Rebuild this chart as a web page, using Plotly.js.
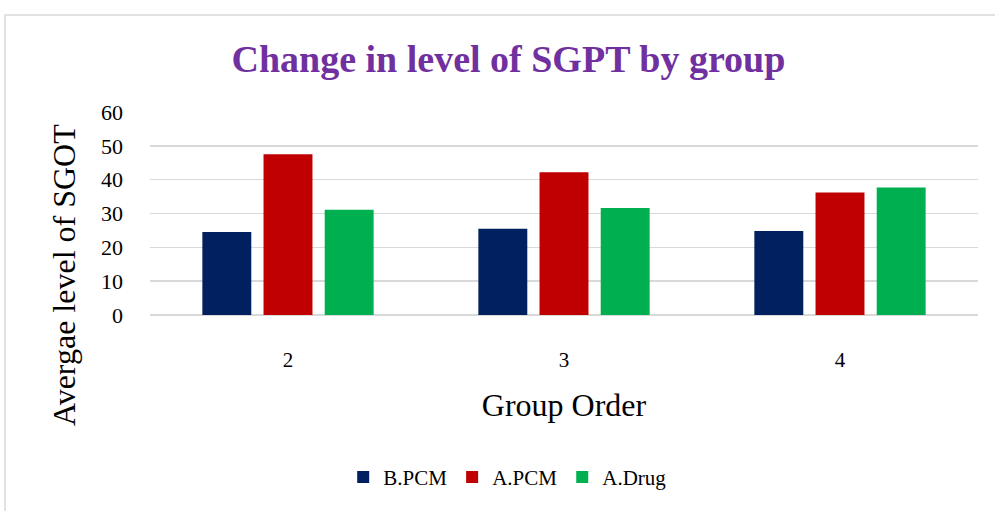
<!DOCTYPE html>
<html>
<head>
<meta charset="utf-8">
<script src="https://cdn.plot.ly/plotly-3.0.1.min.js"></script>
<style>html,body{margin:0;padding:0;background:#fff;}#chart{width:995px;height:511px;}</style>
</head>
<body>
<div id="chart"></div>
<script>
const categories = ["2", "3", "4"];
const seriesNames = ["B.PCM", "A.PCM", "A.Drug"];
const bPCM = [24.5, 25.5, 24.8];
const aPCM = [47.5, 42.2, 36.2];
const aDrug = [31.1, 31.6, 37.7];
const yTicks = [0, 10, 20, 30, 40, 50, 60];
const colors = ["#002060", "#C00000", "#00B050"];

const F = "Liberation Serif, DejaVu Serif, serif";
const vals = [bPCM, aPCM, aDrug];
const traces = vals.map((v, i) => ({
  type: "bar", name: seriesNames[i], x: categories, y: v,
  marker: {color: colors[i], line: {width: 0}},
  hoverinfo: "y"
}));

const layout = {
  width: 995, height: 511,
  margin: {l: 150, r: 17, t: 112, b: 196},
  paper_bgcolor: "#fff", plot_bgcolor: "#fff",
  bargap: 0.335, bargroupgap: 0.2,
  title: {text: "<b>Change in level of SGPT by group</b>", x: 0.511, xanchor: "center", y: 0.885, yanchor: "middle",
    font: {family: F, size: 38, color: "#7030A0"}},
  xaxis: {type: "category", showgrid: false, zeroline: false, showline: false,
    ticks: "", ticklabelstandoff: 30, tickfont: {family: F, size: 21, color: "#000"},
    title: {text: "Group Order", standoff: 22, font: {family: F, size: 32, color: "#000"}}},
  yaxis: {range: [0, 60], tickvals: yTicks, ticktext: yTicks.map(String),
    showgrid: true, gridcolor: "#d9d9d9", gridwidth: 1.5, zeroline: true, zerolinecolor: "#d9d9d9", zerolinewidth: 1.5,
    showline: false, ticks: "", ticklabelstandoff: 26, tickfont: {family: F, size: 22, color: "#000"}},
  annotations: [{text: "Avergae level of SGOT", textangle: -90, xref: "paper", yref: "paper",
    x: -0.1038, y: 0.197, xanchor: "center", yanchor: "middle", showarrow: false,
    font: {family: F, size: 32, color: "#000"}}],
  showlegend: true,
  legend: {orientation: "h", x: 0.432, xanchor: "center", y: -0.80, yanchor: "middle",
    font: {family: F, size: 21, color: "#000"}, itemwidth: 30, traceorder: "normal"},
  shapes: [{type: "rect", xref: "paper", yref: "paper", x0: -0.1751, x1: 1.0266, y0: -1.05, y1: 1.478,
    line: {color: "#d9d9d9", width: 1.5}, fillcolor: "rgba(0,0,0,0)", layer: "below"}]
};

Plotly.newPlot("chart", traces, layout, {displayModeBar: false, staticPlot: true});
</script>
</body>
</html>
